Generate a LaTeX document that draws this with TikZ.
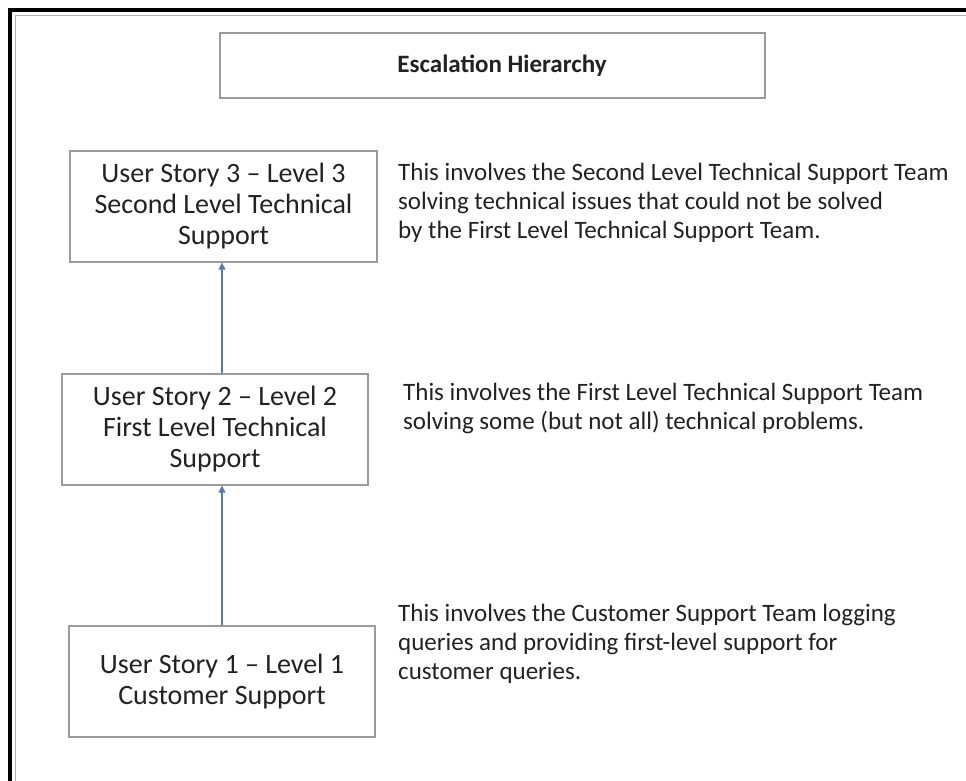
\documentclass[tikz,border=0pt]{standalone}
\usepackage{fontspec}
\setmainfont{Carlito}
\usetikzlibrary{arrows.meta}
\definecolor{boxgray}{HTML}{9A9A9A}
\definecolor{arrowblue}{HTML}{5B7BAA}
\definecolor{txt}{HTML}{222222}
\begin{document}
\begin{tikzpicture}[x=1pt,y=-1pt,
  storybox/.style={draw=boxgray,line width=1.3pt,fill=white,inner sep=0pt,align=center,
    text=txt,font=\fontsize{28}{31}\selectfont},
  desc/.style={anchor=base west,align=left,inner sep=0pt,text=txt,font=\fontsize{25}{29}\selectfont},
  uparrow/.style={draw=arrowblue,line width=1.1pt,-{Triangle[length=7pt,width=7pt]}}]
\useasboundingbox (0,0) rectangle (966,781);
\fill[white] (0,0) rectangle (966,781);
% frame
\draw[line width=3.5pt,black] (10,781) -- (10,10) -- (966,10);
\draw[line width=0.8pt,gray!60] (15,781) -- (15,15) -- (966,15);
% title
\node[draw=boxgray,line width=1.3pt,minimum width=545pt,minimum height=65pt,inner sep=0pt] (title) at (492.5,65.5) {};
\node[font=\bfseries\fontsize{25}{29}\selectfont,text=txt,inner sep=0pt] (titletext) at (502,65.5) {Escalation Hierarchy};
% boxes
\node[storybox,minimum width=307pt,minimum height=111pt] (b3) at (223.5,206.5)
  {User Story 3 -- Level 3\\Second Level Technical\\Support};
\node[storybox,minimum width=306pt,minimum height=111pt] (b2) at (215,429.5)
  {User Story 2 -- Level 2\\First Level Technical\\Support};
\node[storybox,minimum width=306pt,minimum height=111pt] (b1) at (222,681.5)
  {User Story 1 -- Level 1\\Customer Support};
% arrows
\draw[uparrow] (b1.north -| 222,0) -- (b2.south -| 222,0);
\draw[uparrow] (b2.north -| 222,0) -- (b3.south -| 222,0);
% descriptions (anchor = baseline of last line)
\node[desc] (d3) at (398,238) {This involves the Second Level Technical Support Team\\solving technical issues that could not be solved\\by the First Level Technical Support Team.};
\node[desc] (d2) at (403,429) {This involves the First Level Technical Support Team\\solving some (but not all) technical problems.};
\node[desc] (d1) at (398,679) {This involves the Customer Support Team logging\\queries and providing first-level support for\\customer queries.};
\end{tikzpicture}
\end{document}
